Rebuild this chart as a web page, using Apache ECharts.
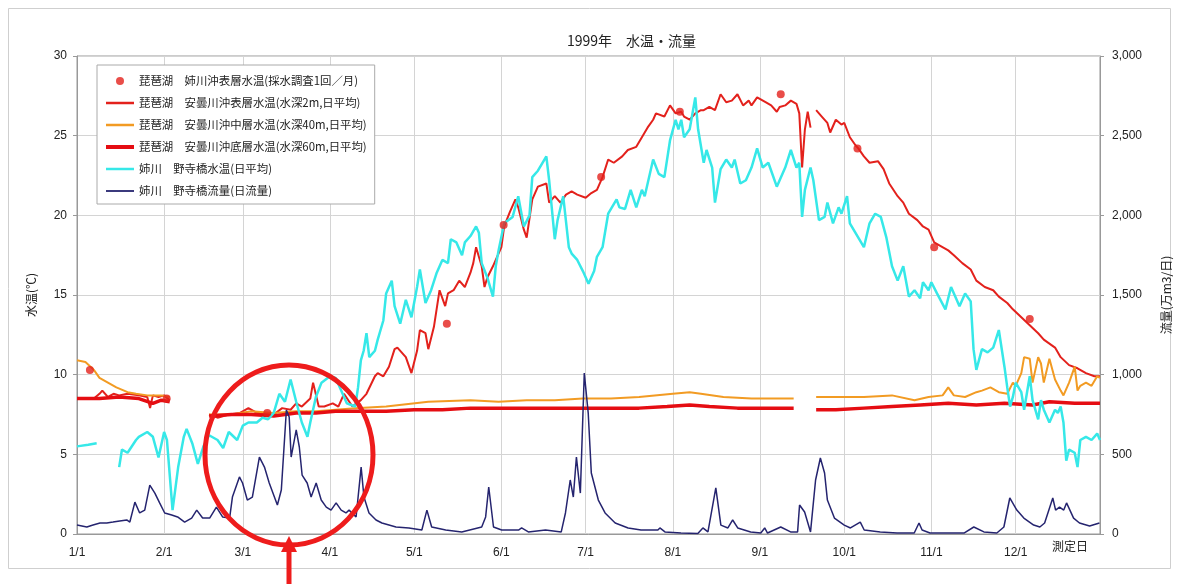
<!DOCTYPE html>
<html>
<head>
<meta charset="utf-8">
<script src="https://cdn.jsdelivr.net/npm/echarts@6/dist/echarts.min.js"></script>
<style>
html,body{margin:0;padding:0;background:#fff;}
#chart{width:1180px;height:584px;}
</style>
</head>
<body>
<div id="chart"></div>
<script>
// ---- tick labels / axis ----
const monthLabels = ['1/1','2/1','3/1','4/1','5/1','6/1','7/1','8/1','9/1','10/1','11/1','12/1'];
const monthStartDays = [0,31,59,90,120,151,181,212,243,273,304,334];
const tempTicks = [0,5,10,15,20,25,30];
const flowTicks = [0,500,1000,1500,2000,2500,3000];

// ---- series names ----
const seriesNames = [
  '琵琶湖　姉川沖表層水温(採水調査1回／月)',
  '琵琶湖　安曇川沖表層水温(水深2m,日平均)',
  '琵琶湖　安曇川沖中層水温(水深40m,日平均)',
  '琵琶湖　安曇川沖底層水温(水深60m,日平均)',
  '姉川　野寺橋水温(日平均)',
  '姉川　野寺橋流量(日流量)'
];

// ---- data: [day of year (0 = 1/1), value] ----
const aneSurfaceMonthly = [[4.6,10.3],[31.9,8.5],[67.7,7.6],[131.6,13.2],[151.8,19.4],[186.5,22.4],[214.5,26.5],[250.4,27.6],[277.7,24.2],[305,18.0],[339,13.5]];

const adoSurface2m = [[0,8.5],[6,8.5],[8,8.8],[9,9.0],[11,8.6],[13,8.8],[15,8.7],[18,8.8],[22,8.7],[25,8.6],[26,7.9],[27,8.7],[29,8.6],[31,8.7],[33,8.4],[40,null],
[47,7.5],[50,7.3],[54,7.5],[58,7.6],[61,7.9],[64,7.6],[67,7.6],[70,7.5],[73,7.9],[76,7.8],[78,8.2],[80,8.0],[83,8.5],[84,9.5],[86,8.0],[88,8.0],[91,8.2],[93,8.0],[95,8.8],[98,8.0],[101,8.4],[103,8.8],[106,9.9],[107,10.1],[109,9.9],[111,10.5],[113,11.6],[114,11.7],[117,11.1],[119,10.1],[121,11.5],[122,12.8],[124,12.6],[125,11.6],[127,13.0],[129,15.3],[131,14.3],[132,15.1],[134,15.3],[136,15.9],[138,15.5],[140,16.4],[141,17.0],[142,18.0],[144,16.8],[145,15.5],[146,16.1],[148,16.8],[149,17.2],[151,18.0],[152,19.3],[154,20.2],[156,21.0],[157,20.5],[159,19.1],[160,18.6],[162,21.0],[164,21.8],[167,22.0],[168,20.8],[170,21.2],[172,20.8],[174,21.3],[176,21.5],[178,21.3],[181,21.1],[183,21.4],[185,21.6],[187,22.4],[189,23.5],[191,23.3],[194,23.7],[196,24.1],[199,24.3],[201,24.9],[203,25.5],[205,26.0],[206,26.4],[209,26.2],[211,26.9],[213,26.4],[215,26.5],[216,26.2],[218,26.0],[220,26.4],[222,26.6],[223,26.6],[225,26.8],[227,26.6],[229,27.6],[231,27.1],[233,27.2],[235,27.6],[237,26.9],[239,27.2],[240,26.9],[242,27.4],[245,27.1],[247,26.9],[249,26.5],[250,26.8],[252,26.9],[254,27.2],[256,27.0],[257,26.4],[258,23.0],[259,25.4],[260,26.5],[261,25.5],[262,null],
[263,26.6],[265,26.2],[267,25.8],[268,25.2],[270,26.0],[272,25.7],[273,25.8],[275,24.9],[277,24.4],[278,24.2],[280,23.7],[282,23.3],[285,23.4],[287,22.9],[289,22.0],[292,21.2],[294,20.8],[296,20.1],[299,19.7],[301,19.3],[303,19.1],[305,18.3],[307,18.1],[310,17.8],[312,17.5],[315,17.0],[318,16.6],[320,15.9],[323,15.5],[326,15.3],[328,14.9],[331,14.5],[333,14.1],[336,13.6],[339,13.1],[342,12.6],[344,12.2],[348,11.7],[350,11.1],[353,10.6],[356,10.4],[359,10.1],[362,9.9],[364,9.9]];

const adoMiddle40m = [[0,10.9],[3,10.8],[6,10.3],[8,9.8],[11,9.5],[14,9.2],[18,8.9],[21,8.8],[25,8.7],[30,8.7],[33,8.6],[40,null],
[47,7.5],[55,7.5],[62,7.7],[70,7.6],[78,7.7],[85,7.7],[92,7.8],[99,7.9],[110,8.0],[125,8.3],[140,8.4],[150,8.3],[160,8.4],[170,8.4],[180,8.5],[190,8.5],[200,8.6],[212,8.8],[218,8.9],[222,8.8],[230,8.6],[240,8.5],[250,8.5],[255,8.5],[259,null],
[263,8.6],[270,8.6],[280,8.6],[290,8.7],[298,8.4],[303,8.6],[308,8.7],[310,9.2],[312,8.7],[316,8.6],[320,8.9],[322,9.0],[325,9.2],[328,8.9],[331,8.8],[333,9.5],[334,9.3],[336,10.1],[337,11.1],[339,11.0],[340,9.5],[342,11.1],[343,10.7],[344,9.5],[346,11.0],[348,9.7],[350,9.0],[351,8.7],[353,9.5],[355,10.5],[356,9.0],[357,9.3],[359,9.5],[361,9.3],[363,9.9],[364,9.8]];

const adoBottom60m = [[0,8.5],[8,8.5],[15,8.6],[22,8.5],[27,8.2],[30,8.4],[33,8.3],[40,null],
[47,7.4],[55,7.5],[62,7.5],[70,7.4],[78,7.6],[85,7.6],[92,7.7],[100,7.7],[110,7.7],[120,7.8],[130,7.8],[140,7.9],[150,7.9],[160,7.9],[170,7.9],[180,7.9],[190,7.9],[200,7.9],[210,8.0],[218,8.1],[225,8.0],[235,7.9],[245,7.9],[255,7.9],[259,null],
[263,7.8],[270,7.8],[280,7.9],[290,8.0],[300,8.1],[310,8.2],[320,8.1],[330,8.2],[340,8.1],[346,8.3],[355,8.2],[364,8.2]];

const noderaTemp = [[0,5.5],[4,5.6],[7,5.7],[11,null],
[15,4.2],[16,5.3],[18,5.1],[21,5.9],[22,6.1],[25,6.4],[27,6.1],[29,4.8],[31,6.4],[32,5.9],[34,1.5],[36,4.2],[38,6.1],[39,6.6],[41,5.7],[43,4.4],[45,5.5],[47,6.2],[50,5.9],[52,5.4],[54,6.4],[57,5.9],[59,6.8],[61,7.0],[64,7.0],[66,7.3],[68,7.2],[70,7.6],[72,8.8],[74,8.3],[76,9.7],[78,8.3],[80,7.0],[82,6.1],[83,7.0],[85,8.6],[87,9.5],[90,9.9],[92,9.8],[94,9.0],[96,8.2],[99,8.0],[100,9.2],[101,10.9],[102,11.5],[103,12.6],[104,11.1],[106,11.5],[107,12.2],[109,13.4],[110,15.1],[112,15.9],[113,14.3],[115,13.2],[117,14.7],[119,13.6],[121,15.5],[122,16.6],[124,14.5],[126,15.3],[128,16.4],[130,17.2],[132,17.0],[133,18.5],[135,18.3],[137,17.5],[138,18.3],[140,18.7],[142,19.3],[143,18.9],[144,17.0],[146,16.1],[148,14.9],[149,16.8],[150,17.8],[152,19.5],[155,19.9],[157,21.2],[159,19.3],[161,20.0],[162,22.4],[164,22.8],[167,23.7],[168,22.2],[170,18.5],[171,19.7],[173,21.2],[175,18.0],[176,17.6],[178,17.2],[180,16.5],[182,15.7],[184,16.5],[185,17.4],[187,18.0],[189,20.1],[192,21.0],[193,20.5],[195,20.4],[197,21.6],[199,20.5],[201,21.6],[202,21.2],[205,23.5],[207,22.6],[209,22.4],[211,24.7],[213,26.0],[214,25.4],[215,26.0],[216,24.9],[218,25.4],[220,27.4],[221,25.4],[223,23.3],[224,24.1],[226,23.0],[227,20.8],[229,22.9],[231,23.5],[233,23.0],[234,23.5],[236,22.0],[238,22.2],[240,23.0],[242,24.2],[244,23.0],[246,23.3],[247,22.8],[249,21.8],[252,23.0],[254,24.1],[256,23.0],[257,23.3],[258,19.9],[259,21.6],[261,23.0],[262,22.2],[264,19.7],[266,19.9],[267,20.8],[269,19.5],[271,20.5],[272,20.1],[274,21.2],[275,19.5],[278,18.6],[280,18.0],[282,19.5],[284,20.1],[286,19.9],[288,18.6],[290,16.8],[292,15.9],[294,16.8],[296,14.9],[298,15.3],[300,14.8],[301,15.8],[303,15.3],[304,15.8],[306,15.1],[309,14.1],[311,15.5],[313,14.7],[314,14.3],[316,15.1],[318,14.6],[319,11.6],[320,10.3],[322,11.6],[324,11.4],[326,11.7],[328,12.8],[330,10.5],[331,9.2],[332,8.0],[333,8.6],[334,9.5],[336,8.9],[337,7.8],[339,9.9],[340,8.4],[342,7.2],[343,8.4],[344,7.8],[346,7.0],[348,7.8],[349,7.6],[350,8.0],[351,7.0],[352,4.6],[353,5.3],[355,5.1],[356,4.2],[357,5.9],[359,6.1],[361,5.9],[363,6.3],[364,5.9]];

const noderaFlow = [[0,56],[3.5,44],[5.7,56],[8.2,69],[10.6,69],[12.8,75],[15.2,82],[17.7,88],[18.8,75],[20.6,200],[22.3,132],[24.1,150],[25.9,307],[27.7,257],[29.4,195],[31.2,132],[33.7,119],[35.8,107],[38.3,75],[40.8,100],[42.6,150],[44.7,100],[47.2,100],[49.6,169],[51.8,107],[54.3,100],[55.3,232],[57.8,358],[58.9,320],[60.6,213],[62.4,232],[64.9,483],[66.7,420],[68.4,320],[71.3,182],[72.7,276],[74.5,778],[75.5,734],[76.2,483],[78,653],[79.1,546],[80.1,370],[81.9,320],[83.3,232],[85.1,320],[86.9,213],[88.7,169],[90.4,150],[92.2,195],[94,150],[95.7,132],[96.8,150],[99.3,107],[101.1,420],[102.1,232],[103.9,132],[106.4,88],[108.5,69],[113.5,44],[118.1,38],[122.7,25],[124.5,150],[126.2,44],[131.2,25],[136.9,13],[144,44],[145.4,107],[146.5,295],[148.2,44],[151.1,25],[157.1,25],[158.2,38],[160.6,13],[166.7,25],[172.3,13],[173.8,132],[175.5,339],[176.6,232],[177.7,483],[179.1,257],[180.5,1010],[181.9,759],[183,383],[185.5,213],[187.9,132],[191.5,69],[196.1,38],[200.7,25],[206.7,25],[207.4,38],[209.2,13],[214.9,6],[220.9,3],[222.7,38],[224.5,13],[227.3,289],[229.1,56],[231.6,38],[233.3,88],[235.1,38],[239.7,13],[243.3,6],[244.7,38],[245.7,6],[250.4,44],[253.9,13],[256.4,13],[257.1,182],[258.9,138],[261,13],[262.8,339],[264.5,477],[266,383],[267,213],[269.5,100],[273,56],[275.2,38],[278.7,75],[280.1,25],[285.8,13],[291.8,6],[297.9,6],[299.6,69],[300.7,25],[303.5,6],[315.6,6],[319.1,44],[322.7,13],[327.3,6],[329.8,44],[331.9,226],[334.4,150],[336.9,100],[340.4,56],[342.6,44],[344.3,69],[347.2,226],[348.2,150],[349.6,169],[351.1,150],[352.1,195],[354.6,100],[356.7,69],[360.3,50],[363.8,69]];

// ---- build day categories for 1999 ----
const dayCats = [];
(function(){
  const dim = [31,28,31,30,31,30,31,31,30,31,30,31];
  for (let m = 0; m < 12; m++) for (let d = 1; d <= dim[m]; d++) dayCats.push((m+1)+'/'+d);
})();
const isMonthStart = (i) => monthStartDays.indexOf(i) >= 0;

const FONT = '"Liberation Sans", "Noto Sans CJK JP", sans-serif';
const JFONT = '"Noto Sans CJK JP", "Liberation Sans", sans-serif';

const lineColors = ['#e3211c', '#e3211c', '#f29b23', '#e50d12', '#36e8e8', '#25246f'];
const lineWidths = [0, 2, 2, 3.5, 2.5, 1.5];
const legendWidths = [0, 2.5, 2.5, 4, 2.5, 1.8];
const legendData = seriesNames.map((n, i) => i === 0 ? {name: n}
  : {name: n, itemStyle: {opacity: 0}, lineStyle: {width: legendWidths[i], color: lineColors[i]}});

const chart = echarts.init(document.getElementById('chart'), null, {renderer: 'canvas'});
chart.setOption({
  animation: false,
  backgroundColor: '#ffffff',
  title: {
    text: '1999年　水温・流量',
    left: 562, top: 29,
    textStyle: {fontFamily: JFONT, fontSize: 14, fontWeight: 'normal', color: '#222'}
  },
  grid: {left: 77, right: 75, top: 56, bottom: 50, show: true, borderColor: '#999', borderWidth: 1},
  legend: {
    orient: 'vertical', left: 97, top: 65,
    backgroundColor: '#fff', borderColor: '#aaa', borderWidth: 1,
    padding: [9, 8, 6, 7],
    itemWidth: 28, itemHeight: 8, itemGap: 8,
    textStyle: {fontFamily: JFONT, fontSize: 11.4, color: '#222', lineHeight: 14},
    data: legendData
  },
  xAxis: [{
    type: 'category', data: dayCats, boundaryGap: false,
    axisLine: {show: true, lineStyle: {color: '#999'}},
    axisTick: {show: false},
    axisLabel: {interval: (i) => isMonthStart(i), formatter: (v, i) => monthLabels[monthStartDays.indexOf(i)] || '',
      fontFamily: FONT, fontSize: 12, color: '#222', margin: 13},
    splitLine: {show: true, interval: (i) => isMonthStart(i), lineStyle: {color: '#d4d4d4', width: 1}}
  }, {
    type: 'value', min: 0, max: 364, show: false
  }],
  yAxis: [{
    type: 'value', min: 0, max: 30, interval: 5,
    name: '水温(℃)', nameLocation: 'middle', nameGap: 40, nameRotate: 90,
    nameTextStyle: {fontFamily: JFONT, fontSize: 12, color: '#222'},
    axisLine: {show: true, lineStyle: {color: '#999'}},
    axisTick: {show: true, length: 4, lineStyle: {color: '#999'}},
    axisLabel: {fontFamily: FONT, fontSize: 12, color: '#222', margin: 10,
      formatter: (v) => tempTicks.indexOf(v) >= 0 ? String(v) : ''},
    splitLine: {show: true, lineStyle: {color: '#d4d4d4', width: 1}}
  }, {
    type: 'value', min: 0, max: 3000, interval: 500,
    name: '流量(万m3/日)', nameLocation: 'middle', nameGap: 60, nameRotate: 90,
    nameTextStyle: {fontFamily: JFONT, fontSize: 12, color: '#222'},
    axisLine: {show: true, lineStyle: {color: '#999'}},
    axisTick: {show: true, length: 4, lineStyle: {color: '#999'}},
    axisLabel: {fontFamily: FONT, fontSize: 12, color: '#222', margin: 12,
      formatter: (v) => flowTicks.indexOf(v) >= 0 ? v.toLocaleString('en-US') : ''},
    splitLine: {show: false}
  }],
  series: [
    {name: seriesNames[1], type: 'line', xAxisIndex: 1, yAxisIndex: 0, data: adoSurface2m,
      symbol: 'none', connectNulls: false, lineStyle: {color: lineColors[1], width: lineWidths[1]}, itemStyle: {color: lineColors[1]}, z: 3},
    {name: seriesNames[2], type: 'line', xAxisIndex: 1, yAxisIndex: 0, data: adoMiddle40m,
      symbol: 'none', connectNulls: false, lineStyle: {color: lineColors[2], width: lineWidths[2]}, itemStyle: {color: lineColors[2]}, z: 3},
    {name: seriesNames[3], type: 'line', xAxisIndex: 1, yAxisIndex: 0, data: adoBottom60m,
      symbol: 'none', connectNulls: false, lineStyle: {color: lineColors[3], width: lineWidths[3]}, itemStyle: {color: lineColors[3]}, z: 4},
    {name: seriesNames[4], type: 'line', xAxisIndex: 1, yAxisIndex: 0, data: noderaTemp,
      symbol: 'none', connectNulls: false, lineStyle: {color: lineColors[4], width: lineWidths[4]}, itemStyle: {color: lineColors[4]}, z: 5},
    {name: seriesNames[5], type: 'line', xAxisIndex: 1, yAxisIndex: 1, data: noderaFlow,
      symbol: 'none', lineStyle: {color: lineColors[5], width: lineWidths[5]}, itemStyle: {color: lineColors[5]}, z: 6},
    {name: seriesNames[0], type: 'scatter', xAxisIndex: 1, yAxisIndex: 0, data: aneSurfaceMonthly,
      symbol: 'circle', symbolSize: 8, itemStyle: {color: lineColors[0]}, z: 7}
  ],
  graphic: [
    {type: 'rect', shape: {x: 8.5, y: 8.5, width: 1162, height: 560}, style: {fill: 'none', stroke: '#cfcfcf', lineWidth: 1}, z: -10, silent: true},
    {type: 'text', left: 1052, top: 540, style: {text: '測定日', font: '12px "Noto Sans CJK JP"', fill: '#222'}},
    {type: 'ellipse', shape: {cx: 289, cy: 455, rx: 84, ry: 90}, style: {fill: 'none', stroke: '#ee1c1c', lineWidth: 5}, z: 100},
    {type: 'line', shape: {x1: 289, y1: 550, x2: 289, y2: 584}, style: {stroke: '#ee1c1c', lineWidth: 5}, z: 100},
    {type: 'polygon', shape: {points: [[289, 536], [281, 552], [297, 552]]}, style: {fill: '#ee1c1c'}, z: 100}
  ]
});
</script>
</body>
</html>
